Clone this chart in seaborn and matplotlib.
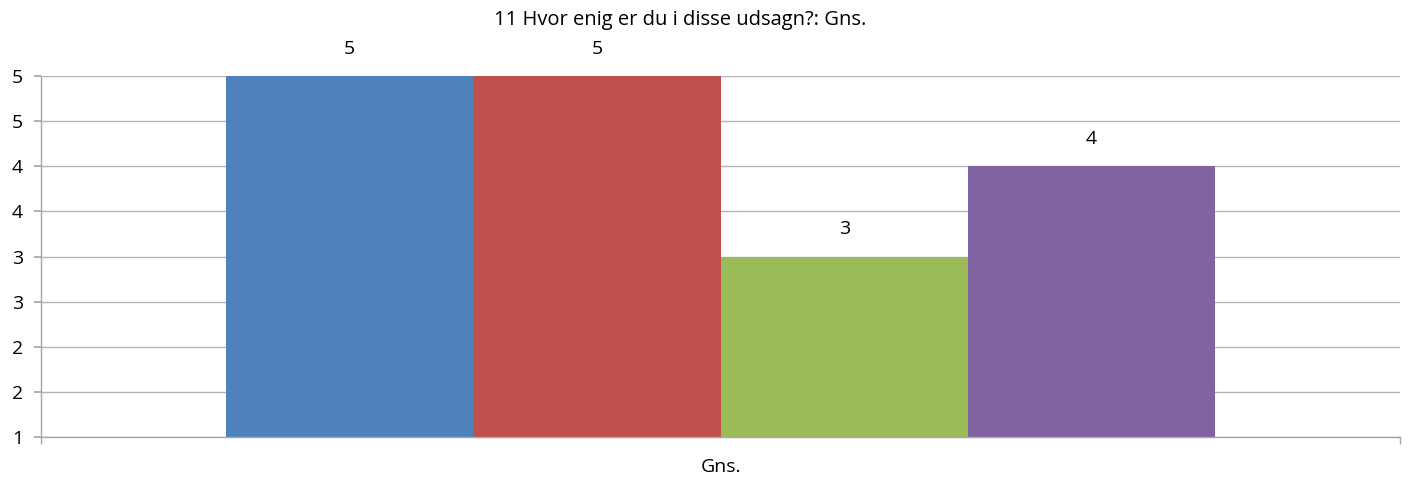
import pandas as pd
import seaborn as sns
import matplotlib.pyplot as plt

# Data
category = ["Gns."]
series = ["Serie 1", "Serie 2", "Serie 3", "Serie 4"]
values = [5, 5, 3, 4]
bar_colors = ["#4F81BD", "#C0504D", "#9BBB59", "#8064A2"]
ytick_values = [1, 1.5, 2, 2.5, 3, 3.5, 4, 4.5, 5]
ytick_labels = ["1", "2", "2", "3", "3", "4", "4", "5", "5"]
title = "11 Hvor enig er du i disse udsagn?: Gns."

df = pd.DataFrame({"Kategori": category * len(series), "Serie": series, "Værdi": values})

sns.set_theme(style="white")
plt.rcParams['font.family'] = ['Open Sans', 'DejaVu Sans']
plt.rcParams['text.color'] = 'black'
plt.rcParams['xtick.color'] = 'black'
plt.rcParams['ytick.color'] = 'black'

fig = plt.figure(figsize=(14.1, 4.83), dpi=100)
ax = fig.add_axes([41 / 1410, 1 - 437 / 483, 1359 / 1410, 361 / 483])

sns.barplot(data=df, x="Kategori", y="Værdi", hue="Serie", palette=bar_colors,
            width=0.728, dodge=True, legend=False, ax=ax, saturation=1,
            edgecolor="none")

ax.set_ylim(1, 5)
ax.set_xlim(-0.5, 0.5)
ax.set_yticks(ytick_values)
ax.set_yticklabels(ytick_labels, fontsize=14)
ax.set_xlabel("")
ax.set_ylabel("")
ax.tick_params(axis="x", labelsize=14, length=0, pad=15, labelcolor="black")
ax.tick_params(axis="y", length=5, color="#A6A6A6", direction="out", pad=8, left=True,
               labelcolor="black")
ax.set_xticks([-0.5, 0.5], minor=True)
ax.tick_params(axis="x", which="minor", length=5, color="#A6A6A6", direction="out", bottom=True)

ax.yaxis.grid(True, color="#B3B3B3", linewidth=1)
ax.set_axisbelow(True)
for side in ["top", "right"]:
    ax.spines[side].set_visible(False)
for side in ["left", "bottom"]:
    ax.spines[side].set_color("#A6A6A6")
    ax.spines[side].set_linewidth(1)

for cont in ax.containers:
    ax.bar_label(cont, fmt="%g", padding=13, fontsize=14, color="black")

fig.text(680 / 1410, 1 - 20 / 483, title, ha="center", va="center", fontsize=14.5,
         color="black")

plt.savefig("out.png", dpi=100)
